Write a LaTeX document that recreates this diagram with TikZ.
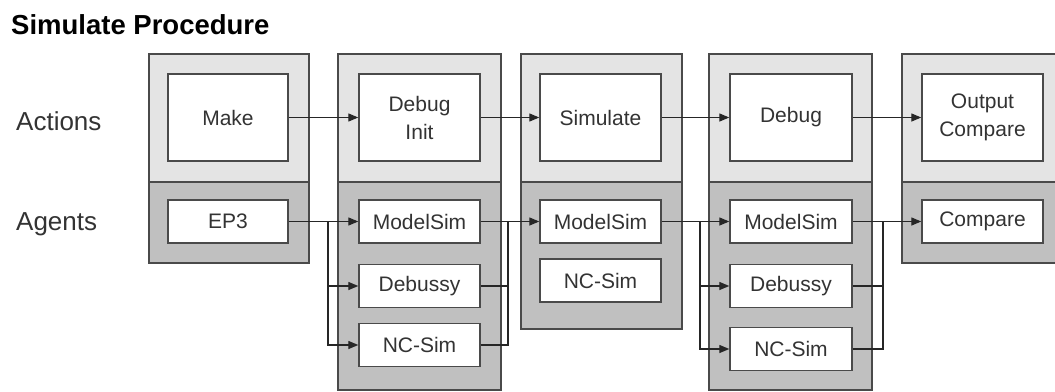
\documentclass[tikz,border=0pt]{standalone}
\usepackage{fontspec}
\setmainfont{Liberation Sans}
\usetikzlibrary{arrows.meta}
\definecolor{actfill}{HTML}{E4E4E4}
\definecolor{agfill}{HTML}{C0C0C0}
\definecolor{bord}{HTML}{4A4A4A}
\definecolor{txt}{HTML}{333333}
\begin{document}
\begin{tikzpicture}[x=1pt,y=-1pt,
  colpart/.style={draw=bord,line width=1.4pt},
  boxnode/.style={draw=bord,line width=1.4pt,fill=white,inner sep=0pt,
    minimum height=#1,align=center,text=txt,
    font=\fontsize{21}{28}\selectfont},
  actbox/.style={boxnode=87pt,minimum width=121pt},
  agbox/.style={boxnode=43pt,minimum width=121pt},
  sidelabel/.style={anchor=base west,inner sep=0pt,text=txt,font=\fontsize{26}{30}\selectfont},
  conn/.style={draw=black!85,line width=1.3pt},
  arr/.style={conn,-{Triangle[length=10pt,width=8pt]}}
]
\useasboundingbox (0,0) rectangle (1055,391);
\clip (0,0) rectangle (1055,391);
\fill[white] (0,0) rectangle (1055,391);

% title and row labels
\node[anchor=base west,inner sep=0pt,font=\bfseries\fontsize{27.5}{32}\selectfont] (title) at (11,34) {Simulate Procedure};
\node[sidelabel] (lblact) at (16,130) {Actions};
\node[sidelabel] (lblag) at (16,230.5) {Agents};

% column backgrounds
\foreach \xa/\xb/\yb in {149/309/263, 338/501/390, 521/682/329, 709/872/390, 902/1064/263}{
  \filldraw[colpart,fill=actfill] (\xa,54) rectangle (\xb,182);
  \filldraw[colpart,fill=agfill] (\xa,182) rectangle (\xb,\yb);
}

% action boxes
\node[actbox,minimum width=120pt] (make) at (228,117.5) {Make};
\node[actbox] (dinit) at (419.5,117.5) {Debug\\Init};
\node[actbox] (sim) at (600.5,117.5) {Simulate};
\node[actbox,minimum width=122pt] (dbg) at (791,117.5) {Debug};
\node[actbox] (ocmp) at (982.5,117.5) {Output\\Compare};

% agent boxes
\node[agbox,minimum width=120pt] (ep3) at (228,221.5) {EP3};
\node[agbox] (ms2) at (419.5,221.5) {ModelSim};
\node[agbox] (db2) at (419.5,286) {Debussy};
\node[agbox] (nc2) at (419.5,345) {NC-Sim};
\node[agbox] (ms3) at (600.5,221.5) {ModelSim};
\node[agbox] (nc3) at (600.5,280.5) {NC-Sim};
\node[agbox,minimum width=122pt] (ms4) at (791,221.5) {ModelSim};
\node[agbox,minimum width=122pt] (db4) at (791,286) {Debussy};
\node[agbox,minimum width=122pt] (nc4) at (791,349) {NC-Sim};
\node[agbox] (cmp) at (982.5,221.5) {Compare};

% action flow
\draw[arr] (make) -- (dinit);
\draw[arr] (dinit) -- (sim);
\draw[arr] (sim) -- (dbg);
\draw[arr] (dbg) -- (ocmp);

% bus junctions
\coordinate (b1) at (328,221.5);
\coordinate (b2) at (508,221.5);
\coordinate (b3) at (700,221.5);
\coordinate (b4) at (883,221.5);

% agent flow
\draw[arr] (ep3) -- (ms2);
\draw[arr] (b1) |- (db2.west);
\draw[arr] (b1) |- (nc2.west);

\draw[arr] (ms2) -- (ms3);
\draw[conn] (db2.east) -| (b2);
\draw[conn] (nc2.east) -| (b2);

\draw[arr] (ms3) -- (ms4);
\draw[arr] (b3) |- (db4.west);
\draw[arr] (b3) |- (nc4.west);

\draw[arr] (ms4) -- (cmp);
\draw[conn] (db4.east) -| (b4);
\draw[conn] (nc4.east) -| (b4);
\end{tikzpicture}
\end{document}
